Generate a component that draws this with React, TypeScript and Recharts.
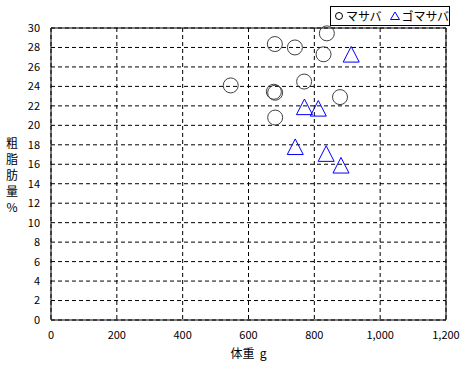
import React from 'react';
import { ScatterChart, Scatter, XAxis, YAxis, CartesianGrid, ReferenceLine, Legend } from 'recharts';

const masabaX = [838, 680, 741, 828, 546, 769, 677, 681, 878, 681];
const masabaY = [29.45, 28.35, 28.0, 27.3, 24.1, 24.5, 23.45, 23.35, 22.9, 20.8];
const gomaX = [912, 770, 812, 742, 836, 881];
const gomaY = [27.3, 21.9, 21.75, 17.8, 17.1, 15.9];
const xTicks = [0, 200, 400, 600, 800, 1000, 1200];
const yTicks = [0, 2, 4, 6, 8, 10, 12, 14, 16, 18, 20, 22, 24, 26, 28, 30];
const seriesNames = ['マサバ', 'ゴマサバ'];
const yLabelChars = ['粗', '脂', '肪', '量', '%'];
const xLabel = '体重\u00a0\u00a0g';

const masaba = masabaX.map((x, i) => ({ x, y: masabaY[i] }));
const goma = gomaX.map((x, i) => ({ x, y: gomaY[i] }));

const FONT = '"Noto Sans CJK JP", "DejaVu Sans", sans-serif';

const CircleShape = (props: any) => (
  <circle cx={props.cx} cy={props.cy} r={7.5} fill="none" stroke="#404040" strokeWidth={1} />
);

const TriangleShape = (props: any) => {
  const { cx, cy } = props;
  const pts = `${cx},${cy - 7.8} ${cx - 8},${cy + 7.8} ${cx + 8},${cy + 7.8}`;
  return <polygon points={pts} fill="none" stroke="#0000ff" strokeWidth={1} />;
};

const YLabel = (props: any) => {
  const vb = props.viewBox || {};
  const baseY = (vb.y || 28) + 120;
  return (
    <g>
      {yLabelChars.map((c, i) => (
        <text key={i} x={12} y={baseY + i * 16} textAnchor="middle" fontSize={12} fontFamily={FONT} fill="#000">
          {c}
        </text>
      ))}
    </g>
  );
};

const LegendContent = () => (
  <div
    style={{
      border: '1px solid #000',
      background: '#fff',
      width: 118,
      height: 18,
      display: 'flex',
      alignItems: 'center',
      whiteSpace: 'nowrap',
      fontFamily: FONT,
      fontSize: 12,
      lineHeight: '18px',
      boxSizing: 'content-box',
      overflow: 'visible',
    }}
  >
    <svg width={14} height={18} style={{ display: 'block', flexShrink: 0 }}>
      <circle cx={8} cy={9} r={3.5} fill="none" stroke="#000" />
    </svg>
    <span style={{ marginLeft: 1, flexShrink: 0 }}>{seriesNames[0]}</span>
    <svg width={14} height={18} style={{ display: 'block', marginLeft: 6, flexShrink: 0 }}>
      <polygon points="7,5 2.5,12.5 11.5,12.5" fill="none" stroke="#0000ff" />
    </svg>
    <span style={{ flexShrink: 0 }}>{seriesNames[1]}</span>
  </div>
);

export default function App() {
  return (
    <div style={{ position: 'absolute', left: 0, top: 0, width: 468, height: 367, background: '#fff' }}>
      <ScatterChart width={468} height={367} margin={{ top: 28, right: 22, left: 0, bottom: 0 }}>
        <CartesianGrid stroke="#000" strokeDasharray="4 3" />
        <XAxis
          type="number"
          dataKey="x"
          domain={[0, 1200]}
          ticks={xTicks}
          interval={0}
          tickLine={false}
          tickMargin={5}
          height={47}
          axisLine={{ stroke: '#000' }}
          tick={{ fill: '#000', fontSize: 11, fontFamily: FONT }}
          tickFormatter={(v: number) => v.toLocaleString('en-US')}
          label={{ value: xLabel, position: 'insideBottom', offset: 9, fill: '#000', fontSize: 12, fontFamily: FONT }}
        />
        <YAxis
          type="number"
          dataKey="y"
          domain={[0, 30]}
          ticks={yTicks}
          interval={0}
          tickLine={false}
          tickMargin={5}
          width={51}
          axisLine={{ stroke: '#000' }}
          tick={{ fill: '#000', fontSize: 11, fontFamily: FONT }}
          label={<YLabel />}
        />
        <ReferenceLine y={30} stroke="#000" />
        <ReferenceLine x={1200} stroke="#000" />
        <Legend
          layout="vertical"
          align="center"
          verticalAlign="middle"
          content={<LegendContent />}
          wrapperStyle={{ position: 'absolute', top: 6, left: 330, width: 120, height: 20 }}
        />
        <Scatter name={seriesNames[0]} data={masaba} shape={<CircleShape />} isAnimationActive={false} />
        <Scatter name={seriesNames[1]} data={goma} shape={<TriangleShape />} isAnimationActive={false} />
      </ScatterChart>
    </div>
  );
}
